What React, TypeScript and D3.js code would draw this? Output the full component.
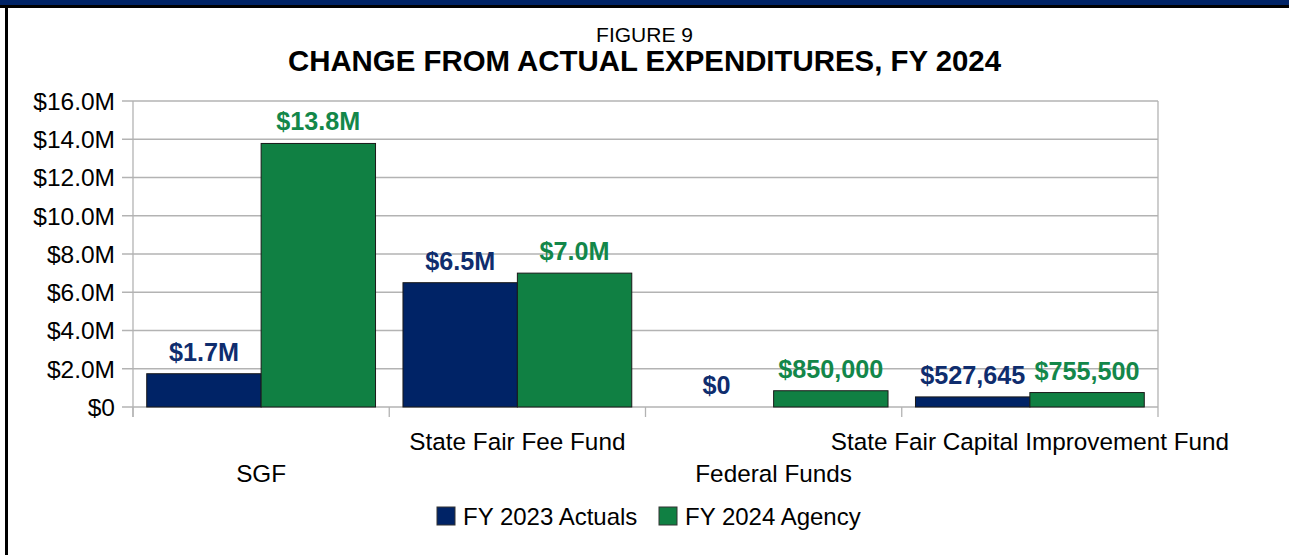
import React from 'react';
import { scaleBand, scaleLinear, format } from 'd3';

const categories = ['SGF', 'State Fair Fee Fund', 'Federal Funds', 'State Fair Capital Improvement Fund'];
const seriesNames = ['FY 2023 Actuals', 'FY 2024 Agency'];
const actuals2023 = [1740000, 6500000, 0, 527645];
const agency2024 = [13780000, 7000000, 850000, 755500];
const actualsLabels = ['$1.7M', '$6.5M', '$0', '$527,645'];
const agencyLabels = ['$13.8M', '$7.0M', '$850,000', '$755,500'];
const yTicks = [0, 2e6, 4e6, 6e6, 8e6, 10e6, 12e6, 14e6, 16e6];

const W = 1289;
const H = 555;
const FONT = '"Liberation Sans", Arial, sans-serif';
const NAVY = '#002366';
const GREEN = '#108043';
const NAVY_TXT = '#0f2d6e';
const GREEN_TXT = '#13874a';
const GRID = '#b3b3b3';

const App = () => {
  const x0 = scaleBand().domain(categories).range([133, 1158]);
  const x1 = scaleBand().domain(seriesNames).range([0, x0.bandwidth()]).paddingOuter(0.12);
  const y = scaleLinear().domain([0, 16e6]).range([407, 101]);

  const fmtTick = (v) => (v === 0 ? '$0' : '$' + format('.1f')(v / 1e6) + 'M');

  const series = [
    { name: seriesNames[0], values: actuals2023, labels: actualsLabels, fill: NAVY, text: NAVY_TXT },
    { name: seriesNames[1], values: agency2024, labels: agencyLabels, fill: GREEN, text: GREEN_TXT },
  ];

  const legendX = [437, 659];

  return (
    <svg width={W} height={H} style={{ position: 'absolute', left: 0, top: 0, background: '#fff' }} fontFamily={FONT}>
      {/* frame */}
      <rect x={0} y={0} width={W} height={5} fill={NAVY} />
      <rect x={0} y={5} width={W} height={3} fill="#000" />
      <rect x={5} y={5} width={3} height={H - 5} fill="#000" />

      <text x={W / 2} y={42} textAnchor="middle" fontSize={21}>FIGURE 9</text>
      <text x={W / 2} y={71} textAnchor="middle" fontSize={29.4} fontWeight="bold">
        CHANGE FROM ACTUAL EXPENDITURES, FY 2024
      </text>

      {/* grid + y axis */}
      {yTicks.map((t) => (
        <g key={t}>
          <line x1={122} x2={1158} y1={y(t)} y2={y(t)} stroke={GRID} strokeWidth={1.3} />
          <text x={115} y={y(t)} dy="0.36em" textAnchor="end" fontSize={24.5}>{fmtTick(t)}</text>
        </g>
      ))}
      <line x1={133} x2={133} y1={y(16e6)} y2={417} stroke={GRID} strokeWidth={1.3} />
      <line x1={1158} x2={1158} y1={y(16e6)} y2={417} stroke={GRID} strokeWidth={1.3} />
      {categories.map((c) => (
        <line key={c} x1={x0(c)} x2={x0(c)} y1={407} y2={417} stroke={GRID} strokeWidth={1.3} />
      ))}

      {/* bars */}
      {categories.map((c, i) => (
        <g key={c} transform={`translate(${x0(c)},0)`}>
          {series.map((s) => {
            const v = s.values[i];
            const bx = x1(s.name);
            return (
              <g key={s.name}>
                {v > 0 && (
                  <rect x={bx} y={y(v)} width={x1.bandwidth()} height={y(0) - y(v)}
                    fill={s.fill} stroke="#1a1a1a" strokeWidth={1} />
                )}
                <text x={bx + x1.bandwidth() / 2} y={y(v) - 13} textAnchor="middle"
                  fontSize={25.2} fontWeight="bold" fill={s.text}>{s.labels[i]}</text>
              </g>
            );
          })}
          <text x={x0.bandwidth() / 2} y={i % 2 === 0 ? 482 : 450} textAnchor="middle" fontSize={24.3}>{c}</text>
        </g>
      ))}

      {/* legend */}
      {series.map((s, i) => (
        <g key={s.name} transform={`translate(${legendX[i]},507)`}>
          <rect x={0} y={0} width={18} height={18} fill={s.fill} stroke="#333" strokeWidth={1} />
          <text x={26} y={18} fontSize={24}>{s.name}</text>
        </g>
      ))}
    </svg>
  );
};

export default App;
